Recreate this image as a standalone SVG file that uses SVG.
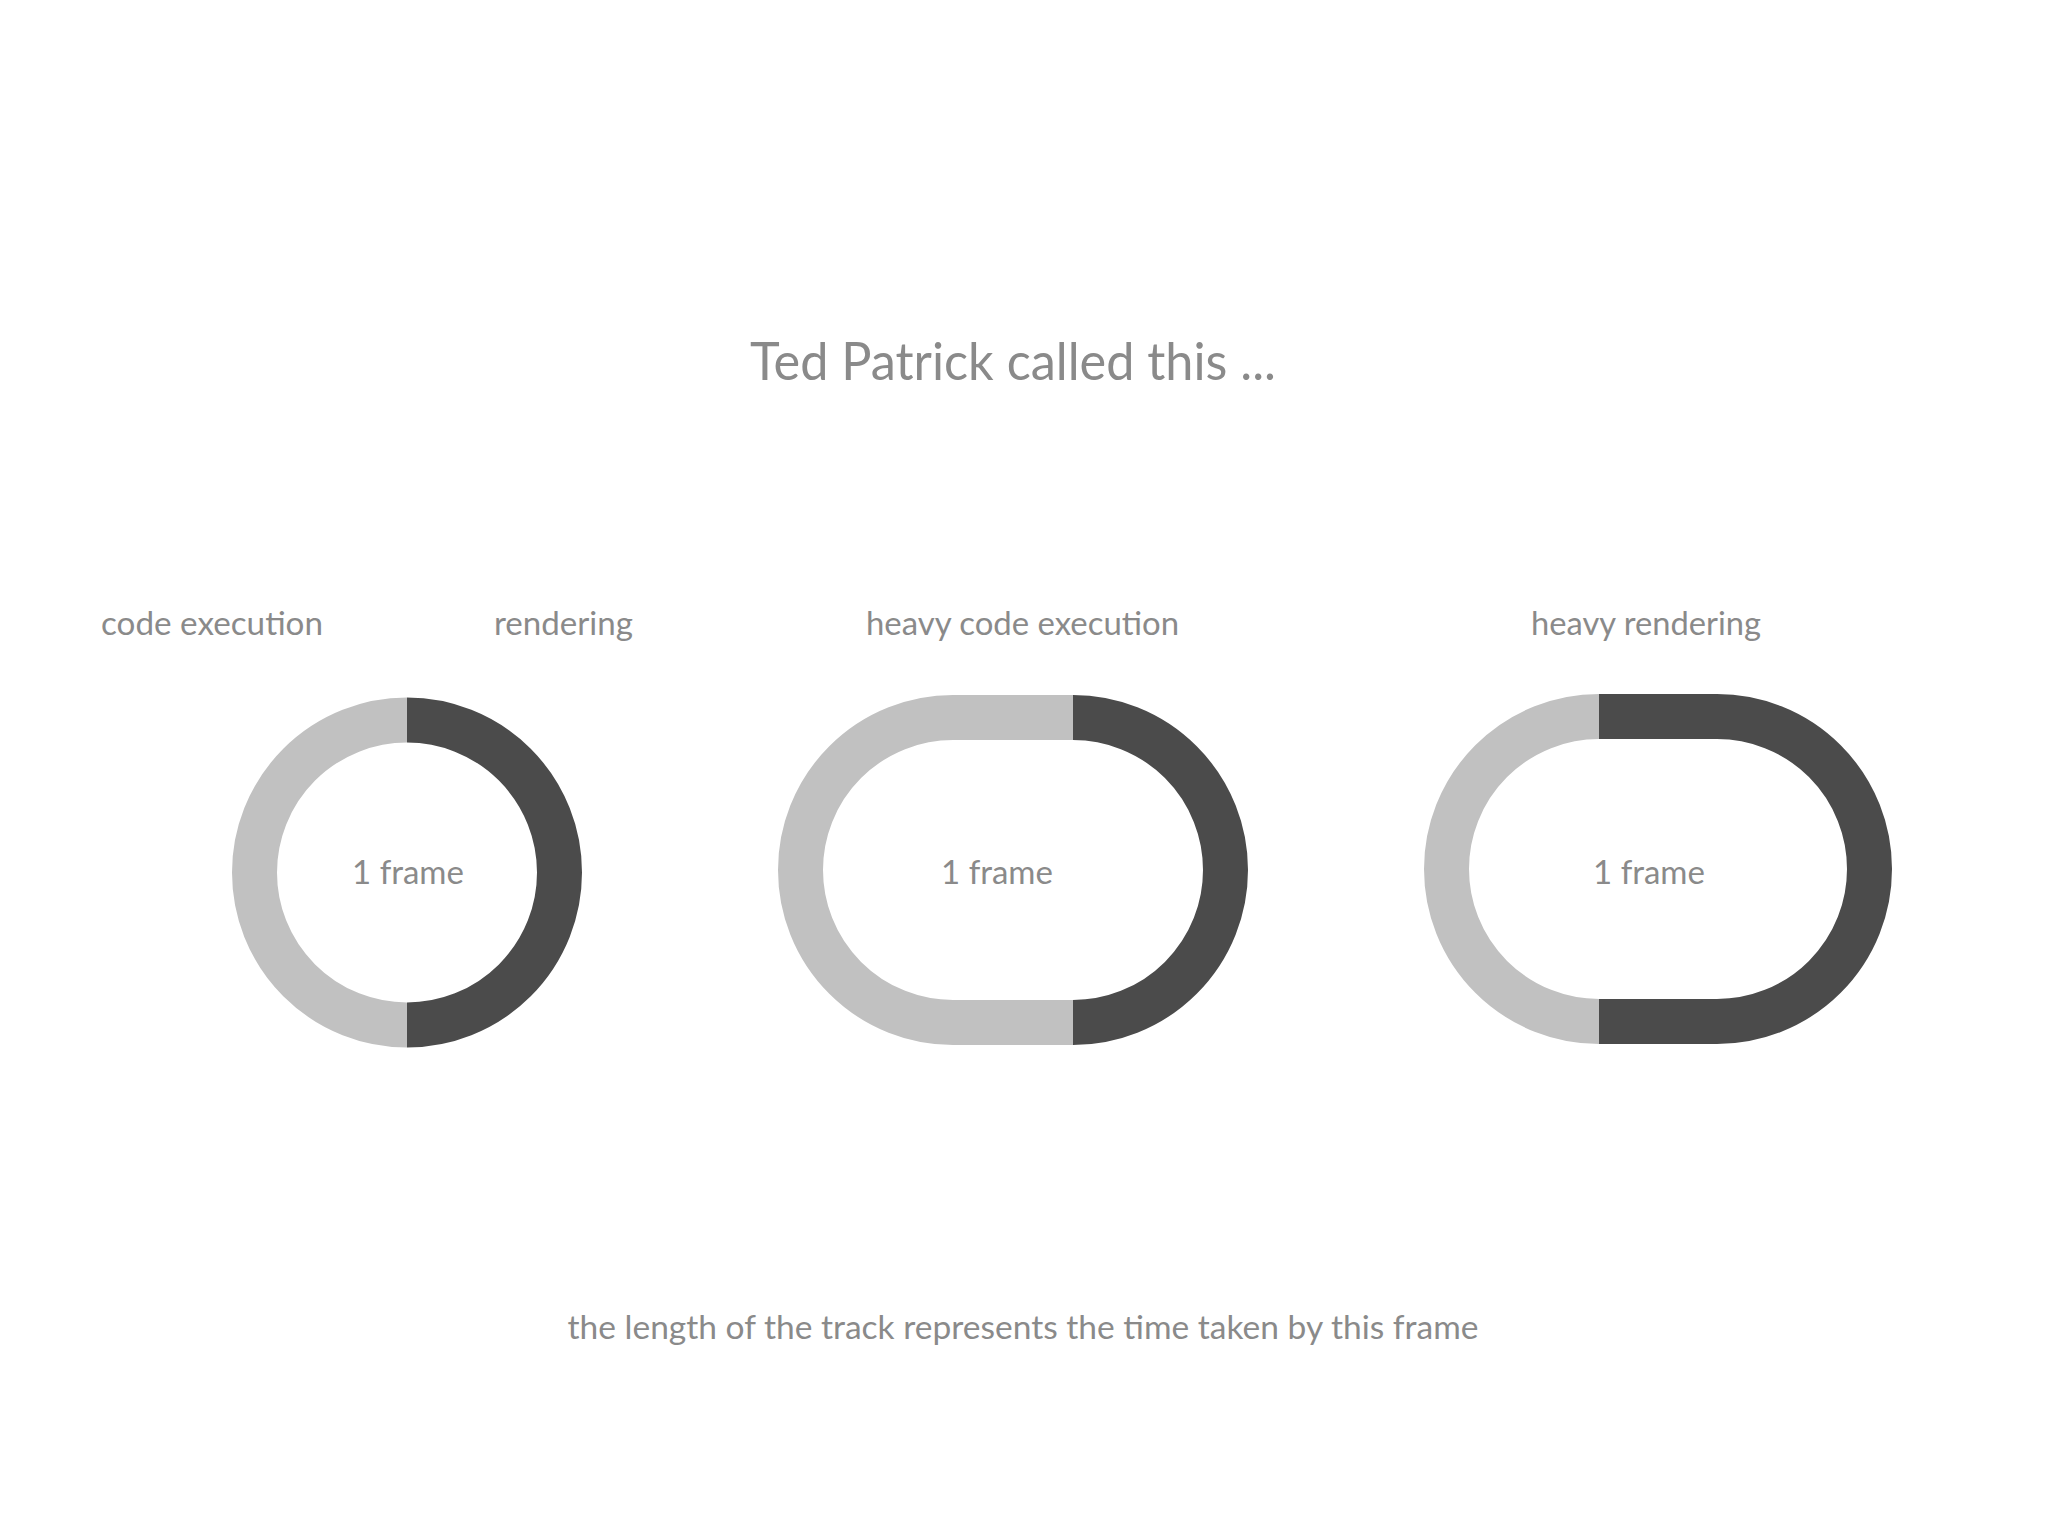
<svg xmlns="http://www.w3.org/2000/svg" width="2048" height="1536" viewBox="0 0 2048 1536">
<style>
.t{font-family:"Gill Sans","Lato","Liberation Sans",sans-serif;fill:#8a8a8a}
.lab{font-size:33px}
.light{fill:none;stroke:#c1c1c1;stroke-width:45}
.dark{fill:none;stroke:#4b4b4b;stroke-width:45}
</style>
<rect width="2048" height="1536" fill="#ffffff"/>
<text id="title" class="t" x="1013" y="380" font-size="52" text-anchor="middle" textLength="526" lengthAdjust="spacingAndGlyphs">Ted Patrick called this ...</text>
<g id="labels">
<text class="t lab" x="101" y="635" textLength="222" lengthAdjust="spacingAndGlyphs">code execution</text>
<text class="t lab" x="494" y="635" textLength="139" lengthAdjust="spacingAndGlyphs">rendering</text>
<text class="t lab" x="866" y="635" textLength="313" lengthAdjust="spacingAndGlyphs">heavy code execution</text>
<text class="t lab" x="1531" y="635" textLength="230" lengthAdjust="spacingAndGlyphs">heavy rendering</text>
</g>
<g id="frame-normal">
<path class="light" d="M407,720 A152.5,152.5 0 0 0 407,1025"/>
<path class="dark" d="M407,720 A152.5,152.5 0 0 1 407,1025"/>
<text class="t lab" x="408" y="884" text-anchor="middle">1 frame</text>
</g>
<g id="frame-heavy-code">
<path class="light" d="M1073,717.5 L953,717.5 A152.5,152.5 0 0 0 953,1022.5 L1073,1022.5"/>
<path class="dark" d="M1073,717.5 A152.5,152.5 0 0 1 1073,1022.5"/>
<text class="t lab" x="997" y="884" text-anchor="middle">1 frame</text>
</g>
<g id="frame-heavy-rendering">
<path class="light" d="M1599,716.5 A152.5,152.5 0 0 0 1599,1021.5"/>
<path class="dark" d="M1599,716.5 L1717,716.5 A152.5,152.5 0 0 1 1717,1021.5 L1599,1021.5"/>
<text class="t lab" x="1649" y="884" text-anchor="middle">1 frame</text>
</g>
<text id="caption" class="t lab" x="1023" y="1339" text-anchor="middle" textLength="911" lengthAdjust="spacingAndGlyphs">the length of the track represents the time taken by this frame</text>
</svg>
